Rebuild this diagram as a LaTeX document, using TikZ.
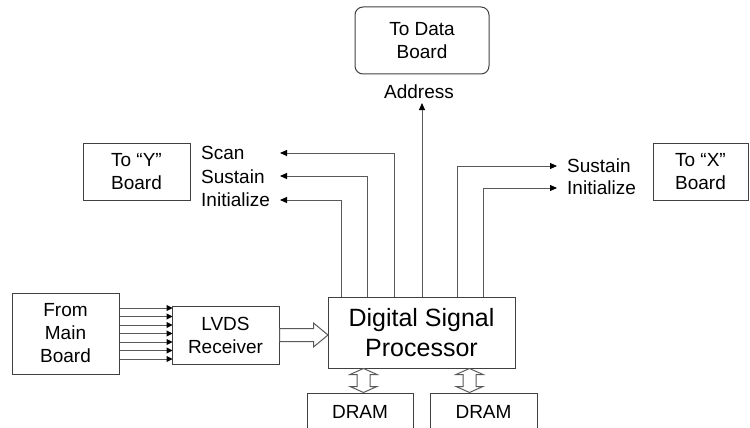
\documentclass[tikz,border=0pt]{standalone}
\usepackage{fontspec}
\setmainfont{Liberation Sans}
\usetikzlibrary{arrows.meta}
\begin{document}
\begin{tikzpicture}[x=1pt, y=-1pt,
        box/.style={draw=black!75, line width=1pt, align=center, inner sep=0pt,
            font=\fontsize{19}{23}\selectfont},
        lbl/.style={inner sep=0pt, anchor=west, font=\fontsize{19}{23}\selectfont},
        sig/.style={draw=black!65, line width=1pt,
            -{Triangle[length=7pt, width=6pt, color=black]}},
        hollow/.style={draw=black!65, line width=1pt, fill=white, line join=miter}]
        \useasboundingbox (0,0) rectangle (750,428);
        \clip (0,0) rectangle (750,428);
        \node[box, minimum width=107pt, minimum height=81pt] (main) at (65.5,333.5) {From\\Main\\Board};
        \node[box, minimum width=107pt, minimum height=58pt] (lvds) at (225.5,335) {LVDS\\Receiver};
        \node[box, minimum width=187pt, minimum height=71pt,
            font=\fontsize{25}{30}\selectfont] (dsp) at (421.5,332.5) {Digital Signal\\Processor};
        \node[box, rounded corners=8pt, minimum width=134pt, minimum height=67pt] (data) at (422,40.5) {To Data\\Board};
        \node[box, minimum width=107pt, minimum height=57pt] (yboard) at (136.5,171.5) {To “Y”\\Board};
        \node[box, minimum width=95pt, minimum height=57pt] (xboard) at (700.5,171.5) {To “X”\\Board};
        \node[box, anchor=north, minimum width=106pt, minimum height=36pt] (dramA) at (360,393) {DRAM};
        \node[box, anchor=north, minimum width=107pt, minimum height=36pt] (dramB) at (483.5,393) {DRAM};
        \node[lbl] (scan) at (201,153) {Scan};
        \node[lbl] (susy) at (201,177) {Sustain};
        \node[lbl] (iniy) at (201,200) {Initialize};
        \node[lbl] (susx) at (567,166) {Sustain};
        \node[lbl] (inix) at (567,188) {Initialize};
        \node[inner sep=0pt, font=\fontsize{19}{23}\selectfont] (address) at (419,92) {Address};
        \coordinate (scanY) at (280,153);
        \coordinate (susY) at (280,176);
        \coordinate (iniY) at (280,200);
        \coordinate (susX) at (557,166);
        \coordinate (iniX) at (557,188);
        \coordinate (addr) at (422,103);
        \foreach \k in {-3,...,3}
            \draw[sig, -{Triangle[length=6pt, width=6pt, color=black]}]
                ([yshift=\k*8.5pt]main.east) -- ++(53,0);
        \foreach \dx/\tip in {14/iniY, 40/susY, 67/scanY, 130/susX, 156/iniX}
            \draw[sig] ([xshift=\dx pt]dsp.north west) |- (\tip);
        \draw[sig] (dsp.north -| addr) -- (addr);
        \draw[hollow] (lvds.east) ++(0,-6.5) -- ++(34,0) -- ++(0,-5.5) -- ++(14.5,12)
            -- ++(-14.5,12) -- ++(0,-5.5) -- ++(-34,0) -- cycle;
        \foreach \dx in {36,142}
            \draw[hollow] ([xshift=\dx pt]dsp.south west) -- ++(13.5,6) -- ++(-7,0) -- ++(0,12)
                -- ++(7,0) -- ++(-13.5,6) -- ++(-13.5,-6) -- ++(7,0) -- ++(0,-12) -- ++(-7,0) -- cycle;
    \end{tikzpicture}
\end{document}
